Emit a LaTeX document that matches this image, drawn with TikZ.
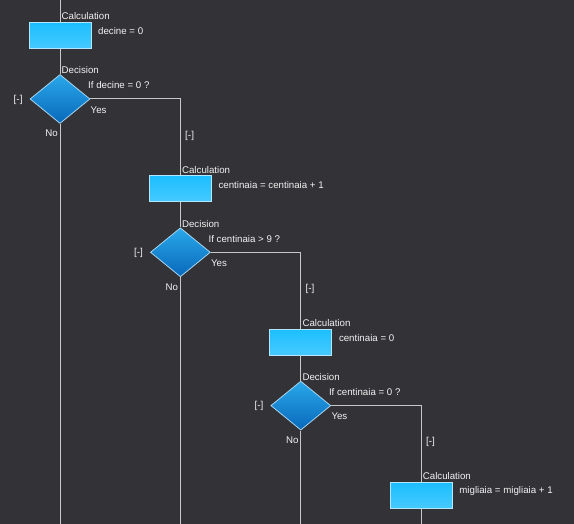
\documentclass[tikz,border=0pt]{standalone}
\usepackage{fontspec}
\setmainfont{Liberation Sans}
\usepackage{xcolor}
\usetikzlibrary{shapes.geometric,positioning,calc}

\definecolor{bgdark}{HTML}{333337}
\definecolor{wire}{HTML}{C8C8C8}
\definecolor{calctop}{HTML}{1CBEFF}
\definecolor{calcbot}{HTML}{46CAFF}
\definecolor{calcrim}{HTML}{B4E6FF}
\definecolor{dectop}{HTML}{2AA8EA}
\definecolor{decbot}{HTML}{0868BA}
\definecolor{decrim}{HTML}{A8D6F0}
\definecolor{ink}{HTML}{F2F2F2}

\begin{document}
\begin{tikzpicture}[
  x=1pt, y=-1pt,
  font=\fontsize{9.7}{11}\selectfont,
  calcbox/.style={draw=calcrim, line width=0.8pt, top color=calctop, bottom color=calcbot,
    minimum width=62pt, minimum height=26pt, inner sep=0pt},
  decbox/.style={diamond, draw=decrim, line width=0.8pt, top color=dectop, bottom color=decbot,
    minimum width=60pt, minimum height=49pt, inner sep=0pt},
  flow/.style={draw=wire, line width=1pt},
  lab/.style={text=ink, anchor=west, inner sep=0pt},
  tag/.style={lab, font=\fontsize{10}{11}\selectfont}
]
\fill[bgdark] (0,0) rectangle (574,523);
\coordinate (top) at (60,0);
\coordinate (bottom) at (0,523);

\foreach \i/\val/\cond in {0/{decine = 0}/{If decine = 0 ?},
    1/{centinaia = centinaia + 1}/{If centinaia > 9 ?},
    2/{centinaia = 0}/{If centinaia = 0 ?},
    3/{migliaia = migliaia + 1}/{}}{
  \begin{scope}[shift={(120.4*\i,153.3*\i)}]
    \node[calcbox] (c\i) at (60,35) {};
    \node[lab] (cl\i) at (61.5,16) {Calculation};
    \node[lab] (cv\i) at (98,31) {\val};
    \ifnum\i<3
      \node[decbox] (d\i) at (60,98.5) {};
      \node[lab] (dl\i) at (61.5,70) {Decision};
      \node[lab] (dv\i) at (88,85) {\cond};
      \node[tag] (dm\i) at (13.5,99) {[-]};
      \node[lab] (dy\i) at (90.5,109.5) {Yes};
      \node[lab, anchor=center] (dn\i) at (51.5,133) {No};
      \node[tag] (dt\i) at (185,135) {[-]};
    \fi
  \end{scope}
}

% main column
\draw[flow] (top) -- (c0.north);
\foreach \i [evaluate=\i as \j using int(\i+1)] in {0,1,2}{
  \draw[flow] (c\i.south) -- (d\i.north);
  \draw[flow] (d\i.south) -- (d\i.south |- bottom);
  \draw[flow] (d\i.east) -| (c\j.north);
}
\draw[flow] (c3.south) -- (c3.south |- bottom);
\end{tikzpicture}
\end{document}
